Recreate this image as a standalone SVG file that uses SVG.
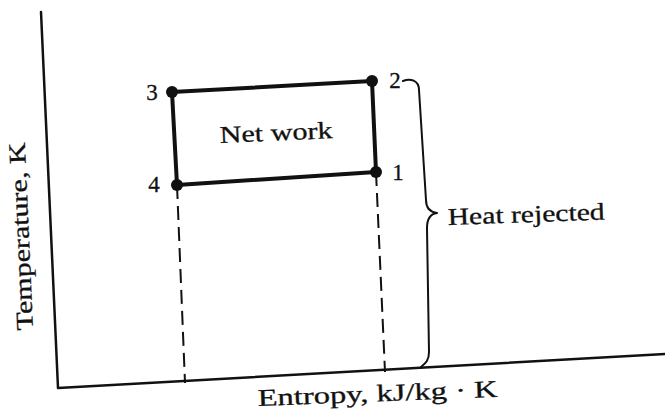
<svg xmlns="http://www.w3.org/2000/svg" width="665" height="413" viewBox="0 0 665 413">
<style>
.t{font-family:"Liberation Serif","Times New Roman",serif;fill:#111;stroke:#111;stroke-width:0.3}
.axis{fill:none;stroke:#111;stroke-width:2.5;stroke-linecap:round;stroke-linejoin:round}
.cyc{fill:none;stroke:#111;stroke-width:4;stroke-linejoin:round}
.dash{fill:none;stroke:#111;stroke-width:2;stroke-dasharray:14 7}
.brace{fill:none;stroke:#111;stroke-width:2;stroke-linecap:round;stroke-linejoin:round}
.dot{fill:#111}
</style>
<rect width="665" height="413" fill="#fff"/>
<g id="axes">
<path class="axis" d="M41,12 L58,388 L665,354"/>
<text class="t" font-size="24" textLength="188" lengthAdjust="spacingAndGlyphs" transform="translate(33,330) rotate(-92.5)">Temperature, K</text>
<text class="t" font-size="24" textLength="240" lengthAdjust="spacingAndGlyphs" transform="translate(258,406) rotate(-2.2)">Entropy, kJ/kg · K</text>
</g>
<g id="connectors">
<path class="cyc" d="M172,92 L372,81 L376,172 L177,185 Z"/>
<path class="dash" d="M177,185 L185,383"/>
<path class="dash" d="M376,172 L385,372"/>
<path class="brace" d="M403,81 C410,78 419,80 419,90 L426,200 C426,208 430,212 437,213 C430,214 427,219 427,228 L429,352 C429,360 426,363 421,367"/>
</g>
<g id="state3"><circle class="dot" cx="172" cy="92" r="6"/><text class="t" font-size="23" x="152" y="100" text-anchor="middle">3</text></g>
<g id="state2"><circle class="dot" cx="372" cy="81" r="6"/><text class="t" font-size="23" x="395" y="88" text-anchor="middle">2</text></g>
<g id="state4"><circle class="dot" cx="177" cy="185" r="6"/><text class="t" font-size="23" x="154" y="192" text-anchor="middle">4</text></g>
<g id="state1"><circle class="dot" cx="376" cy="172" r="6"/><text class="t" font-size="23" x="398" y="180" text-anchor="middle">1</text></g>
<g id="network"><text class="t" font-size="24" textLength="113" lengthAdjust="spacingAndGlyphs" transform="translate(220,143) rotate(-2.5)">Net work</text></g>
<g id="heat"><text class="t" font-size="24" textLength="157" lengthAdjust="spacingAndGlyphs" transform="translate(448,225) rotate(-2)">Heat rejected</text></g>
</svg>
